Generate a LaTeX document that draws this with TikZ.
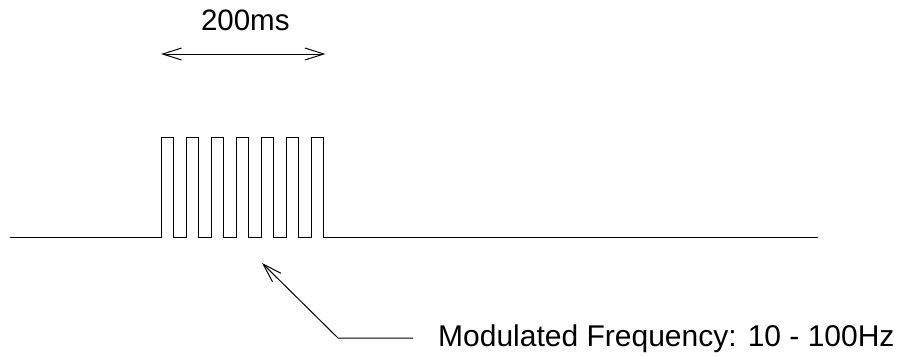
\documentclass[tikz,border=0pt]{standalone}
\usepackage{fontspec}
\setmainfont{Liberation Sans}
\usetikzlibrary{arrows.meta}
\begin{document}
\begin{tikzpicture}[x=1pt,y=-1pt,
  sig/.style={line width=1pt,line join=miter},
  dimline/.style={line width=1pt,{Straight Barb[length=19pt,width=12pt,line width=1pt]}-{Straight Barb[length=19pt,width=12pt,line width=1pt]}},
  leader/.style={line width=1pt,-{Straight Barb[length=19pt,width=12pt,line width=1pt]}},
  lbl/.style={inner sep=0pt,font=\fontsize{29.5}{32}\selectfont},
  lblb/.style={inner sep=0pt,font=\fontsize{30}{32}\selectfont}]
\useasboundingbox (0,0) rectangle (901,356);
% signal
\draw[sig] (10,237) -- (161,237)
  \foreach \k in {0,...,6} {
    -- ({161+25*\k},137) -- ({173.5+25*\k},137) -- ({173.5+25*\k},237)
    \ifnum\k<6 -- ({186+25*\k},237) \fi
  } -- (818,237);
% dimension
\coordinate (dL) at (161,54);
\coordinate (dR) at (325.5,54);
\draw[dimline] (dL) -- (dR);
\node[lbl,anchor=base] (t200) at (245.3,30) {200ms};
% leader
\node[lblb,anchor=base west] (mod) at (438,346) {Modulated Frequency: 10 - 100Hz};
\coordinate (lEnd) at (413,338);
\coordinate (lElb) at (338,338);
\coordinate (lTip) at (262,263);
\draw[leader] (lEnd) -- (lElb) -- (lTip);
\end{tikzpicture}
\end{document}
